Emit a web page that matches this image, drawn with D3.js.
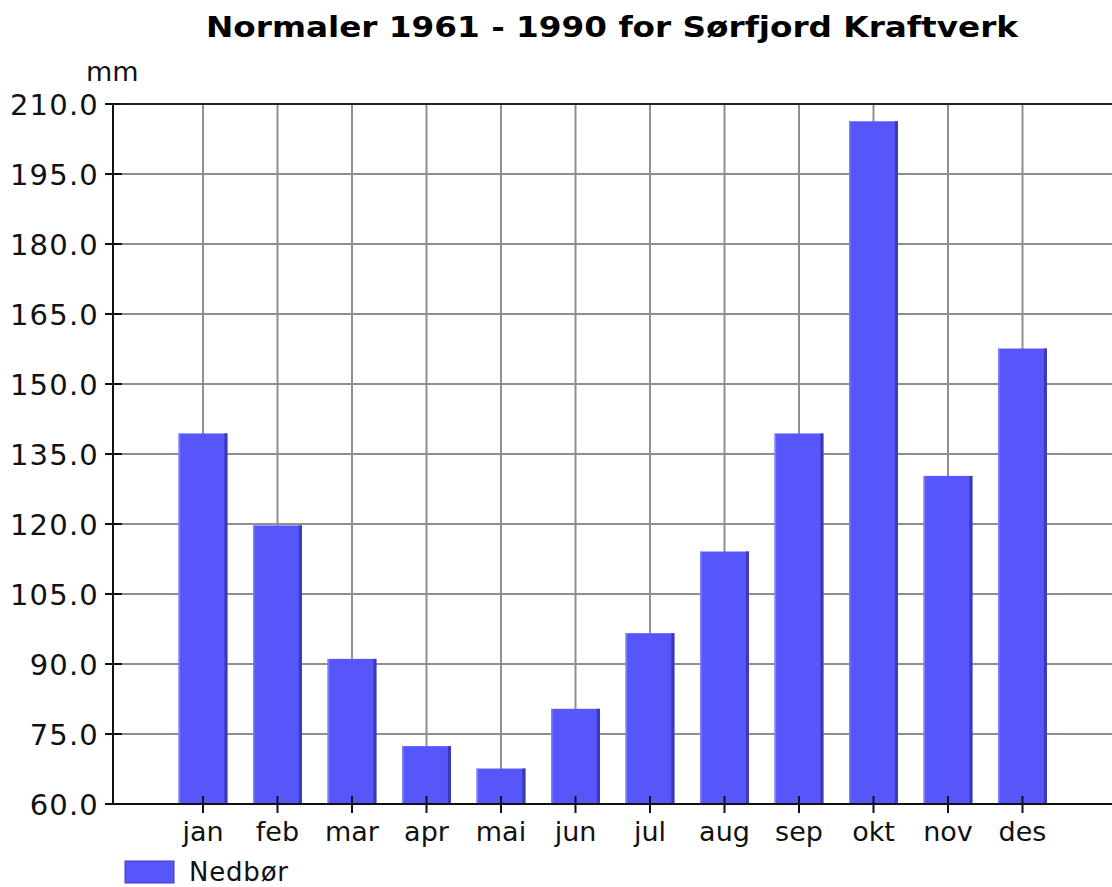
<!DOCTYPE html>
<html><head><meta charset="utf-8">
<script src="https://cdn.jsdelivr.net/npm/d3@7"></script>
<style>html,body{margin:0;padding:0;background:#fff;}svg{display:block;}</style>
</head><body>
<script>
const months = ["jan","feb","mar","apr","mai","jun","jul","aug","sep","okt","nov","des"];
const nedbor = [139.4,119.7,91.1,72.4,67.6,80.4,96.6,114.1,139.4,206.3,130.3,157.6];
const yTicks = [60,75,90,105,120,135,150,165,180,195,210];
const title = "Normaler 1961 - 1990 for Sørfjord Kraftverk";
const unit = "mm";
const seriesName = "Nedbør";

(function(){
const W = 1112, H = 887;
const svg = d3.select("body").append("svg").attr("width", W).attr("height", H);
const pL = 113, pR = 1112, pT = 104, pB = 804;

const y = d3.scaleLinear().domain([60,210]).range([pB, pT]);
const x = d3.scaleBand().domain(months).range([165.75, 1059.75]).paddingInner(0.345).paddingOuter(0.1725);
const cx = d => x(d) + x.bandwidth()/2;

const font = "'DejaVu Sans', sans-serif";
const gridCol = "#8f8f8f";

// grid
svg.append("g").selectAll("line").data(yTicks).join("line")
  .attr("x1", pL).attr("x2", pR).attr("y1", d=>y(d)).attr("y2", d=>y(d))
  .attr("stroke", gridCol).attr("stroke-width", 2);
svg.append("g").selectAll("line").data(months).join("line")
  .attr("x1", d=>cx(d)).attr("x2", d=>cx(d)).attr("y1", pT).attr("y2", pB)
  .attr("stroke", gridCol).attr("stroke-width", 2);

// bars
const bars = svg.append("g").selectAll("g").data(months).join("g");
bars.append("rect")
  .attr("x", d=>x(d)).attr("width", x.bandwidth())
  .attr("y", (d,i)=>y(nedbor[i])).attr("height", (d,i)=>pB - y(nedbor[i]))
  .attr("fill", "#5656fb");
bars.append("rect")
  .attr("x", d=>x(d)+x.bandwidth()-3).attr("width", 3)
  .attr("y", (d,i)=>y(nedbor[i])).attr("height", (d,i)=>pB - y(nedbor[i]))
  .attr("fill", "#3a3ab8");
bars.append("rect")
  .attr("x", d=>x(d)).attr("width", 1.5)
  .attr("y", (d,i)=>y(nedbor[i])).attr("height", (d,i)=>pB - y(nedbor[i]))
  .attr("fill", "#8080ff");

// frame lines
svg.append("line").attr("x1", pL).attr("x2", pR).attr("y1", pT).attr("y2", pT).attr("stroke", "#222").attr("stroke-width", 2);
svg.append("line").attr("x1", pL).attr("x2", pR).attr("y1", pB).attr("y2", pB).attr("stroke", "#111").attr("stroke-width", 2);
svg.append("line").attr("x1", pL).attr("x2", pL).attr("y1", pT).attr("y2", pB).attr("stroke", "#111").attr("stroke-width", 2);

// y ticks
const yg = svg.append("g");
yg.selectAll("line").data(yTicks).join("line")
  .attr("x1", pL-8).attr("x2", pL+9).attr("y1", d=>y(d)).attr("y2", d=>y(d))
  .attr("stroke", "#111").attr("stroke-width", 2);
yg.selectAll("text").data(yTicks).join("text")
  .attr("x", 99).attr("y", d=>y(d)+11)
  .attr("text-anchor", "end")
  .attr("font-family", font).attr("font-size", 29).attr("letter-spacing", 1.2).attr("fill", "#111")
  .text(d=>d3.format(".1f")(d));

// x ticks
const xg = svg.append("g");
xg.selectAll("line").data(months).join("line")
  .attr("x1", d=>cx(d)).attr("x2", d=>cx(d)).attr("y1", pB-8).attr("y2", pB+9)
  .attr("stroke", "#111").attr("stroke-width", 2);
xg.selectAll("text").data(months).join("text")
  .attr("x", d=>cx(d)).attr("y", 841)
  .attr("text-anchor", "middle")
  .attr("font-family", font).attr("font-size", 27).attr("fill", "#111")
  .text(d=>d);

// unit
svg.append("text").attr("x", 86).attr("y", 81)
  .attr("font-family", font).attr("font-size", 27).attr("fill", "#111").text(unit);

// title
svg.append("text").attr("x", 612).attr("y", 37).attr("text-anchor", "middle")
  .attr("font-family", "'DejaVu Sans Condensed', 'DejaVu Sans', sans-serif").attr("font-weight", "bold").attr("font-size", 28)
  .attr("textLength", 812).attr("lengthAdjust", "spacingAndGlyphs")
  .attr("fill", "#000").text(title);

// legend
svg.append("rect").attr("x", 125).attr("y", 861).attr("width", 49).attr("height", 22)
  .attr("fill", "#5656fb").attr("stroke", "#3a3ab8").attr("stroke-width", 1);
svg.append("text").attr("x", 189).attr("y", 881)
  .attr("font-family", font).attr("font-size", 26).attr("letter-spacing", 0.8).attr("fill", "#111").text(seriesName);
})();
</script>
</body></html>
